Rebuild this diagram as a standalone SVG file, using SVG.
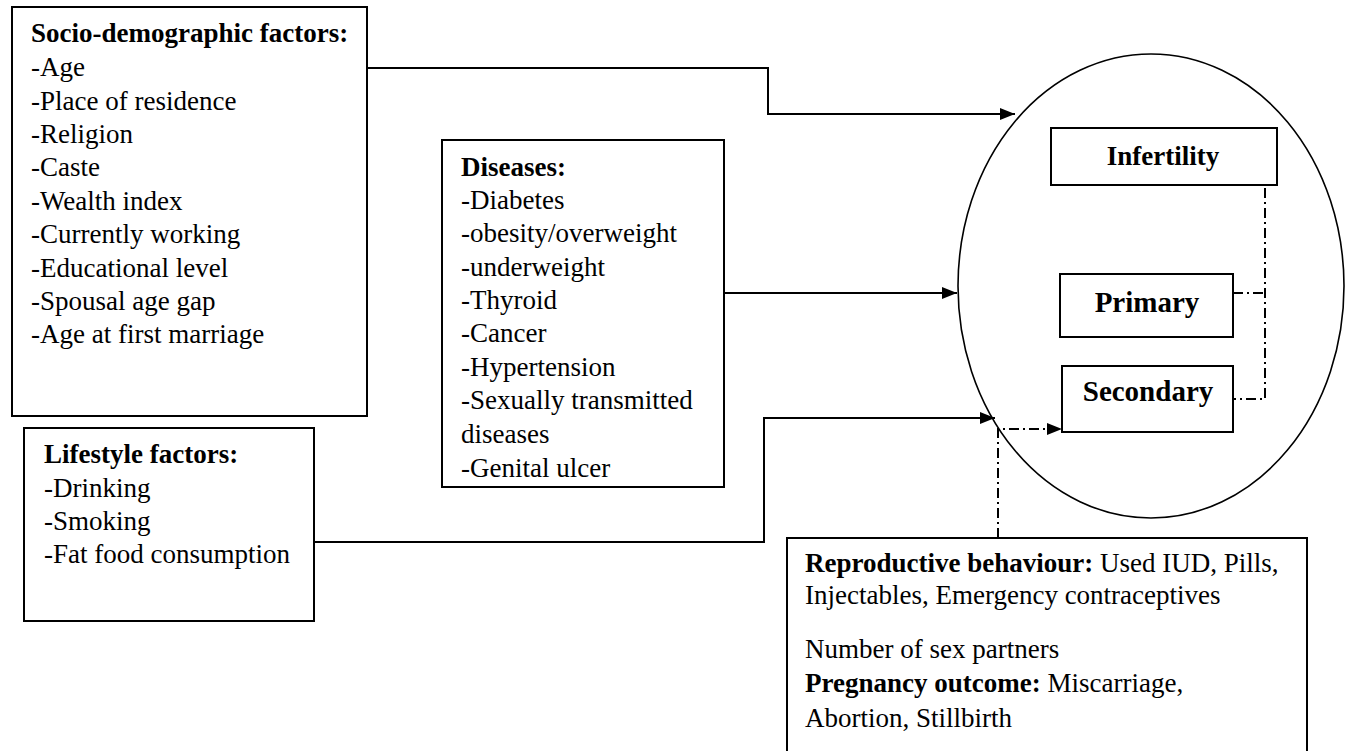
<svg xmlns="http://www.w3.org/2000/svg" width="1349" height="751" viewBox="0 0 1349 751">
<style>
.box{fill:#fff;stroke:#000;stroke-width:2}
.t{font-family:"Liberation Serif","Times New Roman",serif;font-size:27px;fill:#000}
.b{font-weight:bold}
.lbl{font-family:"Liberation Serif","Times New Roman",serif;font-size:29px;font-weight:bold;fill:#000;text-anchor:middle}
.ln{fill:none;stroke:#000;stroke-width:2}
.dd{fill:none;stroke:#000;stroke-width:2;stroke-dasharray:10 4 2 4}
</style>
<defs>
<marker id="ah" markerUnits="userSpaceOnUse" markerWidth="16" markerHeight="14" refX="15" refY="7" orient="auto">
<path d="M0,1 L15,7 L0,13 Z" fill="#000"/>
</marker>
</defs>
<rect width="1349" height="751" fill="#fff"/>
<g id="outcome">
<ellipse cx="1151" cy="286" rx="193" ry="232" fill="none" stroke="#000" stroke-width="1.6"/>
</g>
<g id="socio">
<rect class="box" x="12" y="7" width="355" height="409"/>
<text class="t" x="31" y="42"><tspan class="b">Socio-demographic factors:</tspan><tspan x="31" y="76">-Age</tspan><tspan x="31" y="110">-Place of residence</tspan><tspan x="31" y="143">-Religion</tspan><tspan x="31" y="176">-Caste</tspan><tspan x="31" y="210">-Wealth index</tspan><tspan x="31" y="243">-Currently working</tspan><tspan x="31" y="277">-Educational level</tspan><tspan x="31" y="310">-Spousal age gap</tspan><tspan x="31" y="343">-Age at first marriage</tspan></text>
</g>
<g id="diseases">
<rect class="box" x="442" y="140" width="282" height="347"/>
<text class="t" x="461" y="176"><tspan class="b">Diseases:</tspan><tspan x="461" y="209">-Diabetes</tspan><tspan x="461" y="242">-obesity/overweight</tspan><tspan x="461" y="276">-underweight</tspan><tspan x="461" y="309">-Thyroid</tspan><tspan x="461" y="342">-Cancer</tspan><tspan x="461" y="376">-Hypertension</tspan><tspan x="461" y="409">-Sexually transmitted</tspan><tspan x="461" y="443">diseases</tspan><tspan x="461" y="477">-Genital ulcer</tspan></text>
</g>
<g id="lifestyle">
<rect class="box" x="24" y="428" width="290" height="193"/>
<text class="t" x="44" y="463"><tspan class="b">Lifestyle factors:</tspan><tspan x="44" y="497">-Drinking</tspan><tspan x="44" y="530">-Smoking</tspan><tspan x="44" y="563">-Fat food consumption</tspan></text>
</g>
<g id="reproductive">
<rect class="box" x="787" y="538" width="520" height="216"/>
<text class="t" x="805" y="572"><tspan class="b">Reproductive behaviour:</tspan> Used IUD, Pills,<tspan x="805" y="604">Injectables, Emergency contraceptives</tspan><tspan x="805" y="658">Number of sex partners</tspan><tspan x="805" y="692" class="b">Pregnancy outcome:</tspan> Miscarriage,<tspan x="805" y="727">Abortion, Stillbirth</tspan></text>
</g>
<g id="infertility">
<rect class="box" x="1051" y="128" width="226" height="57"/>
<text class="lbl" x="1163" y="165" style="font-size:27px">Infertility</text>
</g>
<g id="primary">
<rect class="box" x="1060" y="274" width="173" height="63"/>
<text class="lbl" x="1147" y="312">Primary</text>
</g>
<g id="secondary">
<rect class="box" x="1062" y="366" width="171" height="66"/>
<text class="lbl" x="1148" y="401">Secondary</text>
</g>
<g id="connectors">
<path class="ln" d="M367,68 H768 V114 H1015" marker-end="url(#ah)"/>
<path class="ln" d="M724,293 H957" marker-end="url(#ah)"/>
<path class="ln" d="M314,542 H764 V418 H995" marker-end="url(#ah)"/>
<path class="dd" d="M998,538 V429 H1062" marker-end="url(#ah)"/>
<path class="dd" d="M1265,188 V399 H1233"/>
<path class="dd" d="M1233,293 H1265"/>
</g>
</svg>
